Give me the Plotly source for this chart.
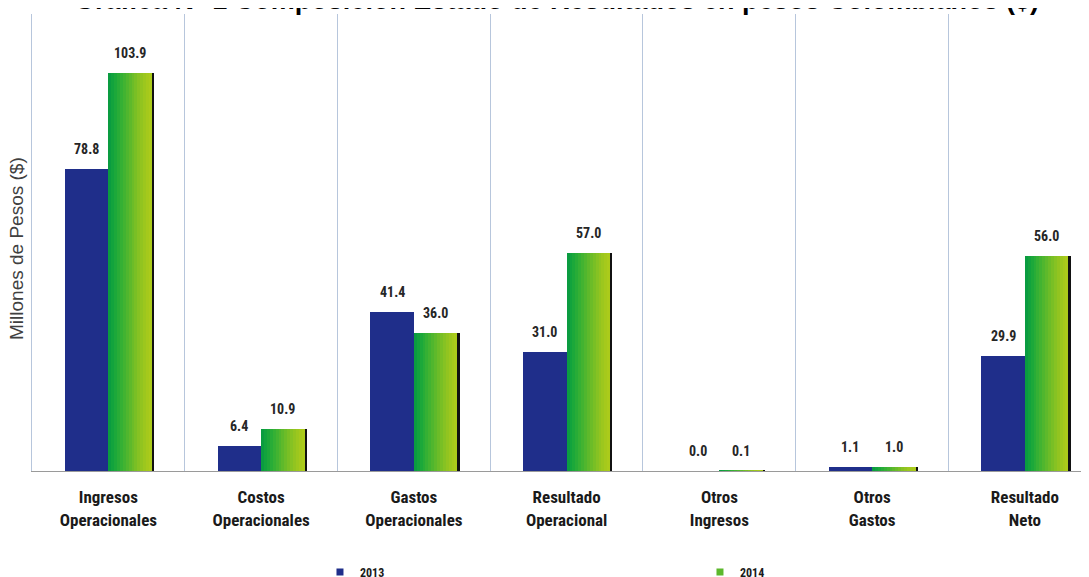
import plotly.graph_objects as go

categories = ["Ingresos<br>Operacionales", "Costos<br>Operacionales", "Gastos<br>Operacionales",
              "Resultado<br>Operacional", "Otros<br>Ingresos", "Otros<br>Gastos", "Resultado<br>Neto"]
values_2013 = [78.8, 6.4, 41.4, 31.0, 0.0, 1.1, 29.9]
values_2014 = [103.9, 10.9, 36.0, 57.0, 0.1, 1.0, 56.0]
series_names = ["2013", "2014"]
title_text = "Gráfica N° 1 Composición Estado de Resultados en pesos Colombianos ($)"

xpos = list(range(len(categories)))
BW = 0.285
NARROW = "Liberation Sans Narrow, Arial Narrow, Roboto Condensed, Roboto, Liberation Sans, sans-serif"
BLUE = "#1f2e8a"

fig = go.Figure()

# 2013 bars (blue)
fig.add_trace(go.Bar(x=xpos, y=values_2013, width=BW, offset=-BW, name=series_names[0],
                     marker=dict(color=BLUE, line=dict(width=0)), showlegend=False))

# 2014 bars: stepped green->yellow gradient built from slices of the same data
greens = ["#0a9c40", "#12a33d", "#1ca83a", "#28ac37", "#35b034", "#42b331", "#50b62e",
          "#5eb92b", "#6cbc28", "#79bf25", "#86c223", "#92c420", "#9cc71e", "#a5c91c", "#abcb1b"]
n = len(greens)
sw = BW / n
for i, c in enumerate(greens):
    fig.add_trace(go.Bar(x=xpos, y=values_2014, width=sw * 1.05, offset=i * sw, name=series_names[1],
                         marker=dict(color=c, line=dict(width=0)), showlegend=False))
# dark shadow on the right edge of green bars
fig.add_trace(go.Bar(x=xpos, y=values_2014, width=0.014, offset=BW, name=series_names[1],
                     marker=dict(color="#111111", line=dict(width=0)), showlegend=False))

# small legend keys
fig.add_trace(go.Scatter(x=[None], y=[None], mode="markers", name=series_names[0],
                         marker=dict(symbol="square", size=7, color=BLUE)))
fig.add_trace(go.Scatter(x=[None], y=[None], mode="markers", name=series_names[1],
                         marker=dict(symbol="square", size=7, color="#5cb82c")))

# value labels
for xi, v in zip(xpos, values_2013):
    fig.add_annotation(x=xi - BW / 2, y=v, text=f"{v:.1f}", showarrow=False, yanchor="middle",
                       yshift=20, font=dict(family=NARROW, size=14, color="#262626", weight="bold"))
for xi, v in zip(xpos, values_2014):
    fig.add_annotation(x=xi + BW / 2, y=v, text=f"{v:.1f}", showarrow=False, yanchor="middle",
                       yshift=20, font=dict(family=NARROW, size=14, color="#262626", weight="bold"))

# y-axis title
fig.add_annotation(xref="paper", yref="paper", x=-0.0142, y=0.488, xanchor="center", yanchor="middle",
                   text="Millones de Pesos ($)", textangle=-90, showarrow=False,
                   font=dict(family="Liberation Sans, Arial, sans-serif", size=19, color="#404040"))

# chart title (partly cut at the top edge, as in the reference)
fig.add_annotation(xref="paper", yref="paper", x=0.496, y=1.0, xanchor="center", yanchor="bottom",
                   yshift=-3, text=f"<b>{title_text}</b>", showarrow=False,
                   font=dict(family="Liberation Sans, Arial, sans-serif", size=27, color="#000000"))

fig.update_layout(
    width=1081, height=569,
    margin=dict(l=24, r=0, t=6, b=106),
    barmode="overlay",
    paper_bgcolor="white", plot_bgcolor="white",
    xaxis=dict(range=[-0.5, 6.42], tickmode="array", tickvals=xpos, ticktext=categories,
               showgrid=False, zeroline=False, showline=True, linecolor="#9a9a9a", linewidth=1,
               ticks="", ticklabelstandoff=11,
               tickfont=dict(family=NARROW, size=17, color="#1a1a1a", weight="bold"),
               minor=dict(tickmode="array", tickvals=[i + 0.5 for i in xpos], showgrid=True,
                          gridcolor="#b7c6dc", gridwidth=1.2, ticks="")),
    yaxis=dict(range=[0, 119.3], showgrid=False, zeroline=False, showticklabels=False, ticks="",
               showline=True, linecolor="#b7c6dc", linewidth=1.2),
    legend=dict(orientation="h", x=0.2886, xref="container", xanchor="left",
                y=0.0088, yref="container", yanchor="middle",
                entrywidth=335, entrywidthmode="pixels", itemwidth=30,
                font=dict(family=NARROW, size=12, color="#1a1a1a", weight="bold")),
    bargap=0,
)

fig.write_html("out.html")
